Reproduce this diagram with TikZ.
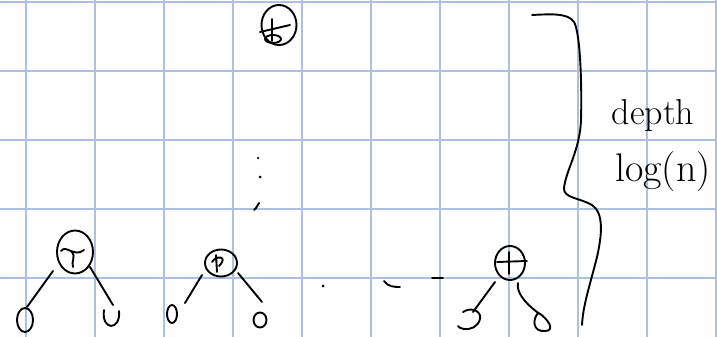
\documentclass[tikz,border=0pt]{standalone}
\usetikzlibrary{shapes.geometric,calc}
\definecolor{gridc}{RGB}{172,192,224}
\tikzset{
  ink/.style={line width=1.9pt, line cap=round, line join=round, black},
  rootnode/.style={ellipse, draw, ink, inner sep=0pt},
  leafnode/.style={ellipse, draw, ink, inner sep=0pt},
  hidden/.style={inner sep=0pt, minimum size=12pt},
  gridline/.style={gridc, line width=1.3pt},
  edge/.style={ink},
  dotmark/.style={circle, fill=black, inner sep=0pt, minimum size=3pt},
  lbl/.style={inner sep=0pt}
}
\begin{document}
\begin{tikzpicture}[x=1pt, y=-1pt]
\useasboundingbox (0,0) rectangle (717,337);
\fill[white] (0,0) rectangle (717,337);
% grid
\foreach \gx in {26,95,164,233,302,371,440,509,578,647,716} \draw[gridline] (\gx,0) -- (\gx,337);
\foreach \gy in {2,71,140,209,278} \draw[gridline] (0,\gy) -- (717,\gy);

% top root
\node[rootnode, minimum width=35pt, minimum height=40pt] (top) at (279,25) {};
\draw[ink] (260,32) -- (290,25);
\draw[ink] (272,19) -- (272,41);
\draw[ink] (273,39) ellipse (8 and 4);

% vertical dots
\node[dotmark, minimum size=2.5pt] (d1) at (258,158) {};
\node[dotmark] (d2) at (260,177) {};
\coordinate (d3) at (256,208);
\draw[ink] (d3) -- ++(-2,2) (d3) -- ++(3,-5);

% tree 1
\node[rootnode, minimum width=36pt, minimum height=43pt] (r1) at (75,252) {};
\draw[ink] (61,251) .. controls (66,244) and (74,258) .. (84,250);
\draw[ink] (72,252) .. controls (76,256) and (71,262) .. (73,267);
\node[leafnode, minimum width=16pt, minimum height=24pt] (l1) at (25,320) {};
\node[hidden] (u1) at (111,318) {};
\draw[ink] (104,310) .. controls (101,331) and (121,331) .. (119,311);
\draw[edge] ($(r1.center)+(-22,19)$) -- ($(l1.center)+(2,-13)$);
\draw[edge] ($(r1.center)+(15,15)$) -- ($(u1.center)+(2,-13)$);

% tree 2
\node[rootnode, minimum width=32pt, minimum height=27pt] (r2) at (221,263) {};
\draw[ink] (216,255) -- (217,272);
\draw[ink] (212,262) .. controls (216,255) and (229,256) .. (219,266);
\node[leafnode, minimum width=10pt, minimum height=18pt] (l2) at (172,314) {};
\node[leafnode, minimum width=13pt, minimum height=15pt] (l3) at (260,320) {};
\draw[edge] ($(r2.center)+(-19,12)$) -- ($(l2.center)+(13,-11)$);
\draw[edge] ($(r2.center)+(17,10)$) -- ($(l3.center)+(2,-18)$);

% horizontal dots
\node[dotmark] (h1) at (323,286) {};
\coordinate (h2) at (384,281);
\coordinate (h3) at (432,278);
\draw[ink] (h2) .. controls (388,287) and (395,287) .. (400,287);
\draw[ink] (h3) -- (443,278);

% tree 3
\node[rootnode, minimum width=30pt, minimum height=34pt] (r3) at (510,263) {};
\draw[ink] (497,262) -- (527,261);
\draw[ink] (509,252) -- (509,274);
\node[hidden] (l4) at (470,320) {};
\draw[ink] (463,312) .. controls (472,306) and (482,312) .. (480,319)
  .. controls (478,327) and (470,330) .. (464,329)
  .. controls (460,328) and (458,327) .. (458,326);
\draw[edge] ($(r3.center)+(-15,19)$) -- ($(l4.center)+(3,-8)$);
\draw[ink] ($(r3.center)+(8,20)$) .. controls (516,292) and (525,303) .. (537,312)
  .. controls (548,318) and (556,331) .. (545,331)
  .. controls (533,332) and (532,320) .. (538,313);

% brace
\coordinate (bt) at (532,15);
\coordinate (bb) at (582,325);
\draw[ink] (bt) .. controls (552,14) and (568,13) .. (574,22)
  .. controls (580,32) and (582,80) .. (581,120)
  .. controls (580,150) and (566,170) .. (564,188)
  .. controls (563,198) and (580,198) .. (592,205)
  .. controls (604,213) and (602,235) .. (597,257)
  .. controls (590,285) and (583,305) .. (bb);

% labels
\node[lbl, font=\fontsize{36}{40}\selectfont] (dep) at (653,116) {depth};
\node[lbl, font=\fontsize{40}{44}\selectfont] (lg) at (663,172) {log(n)};
\end{tikzpicture}
\end{document}
